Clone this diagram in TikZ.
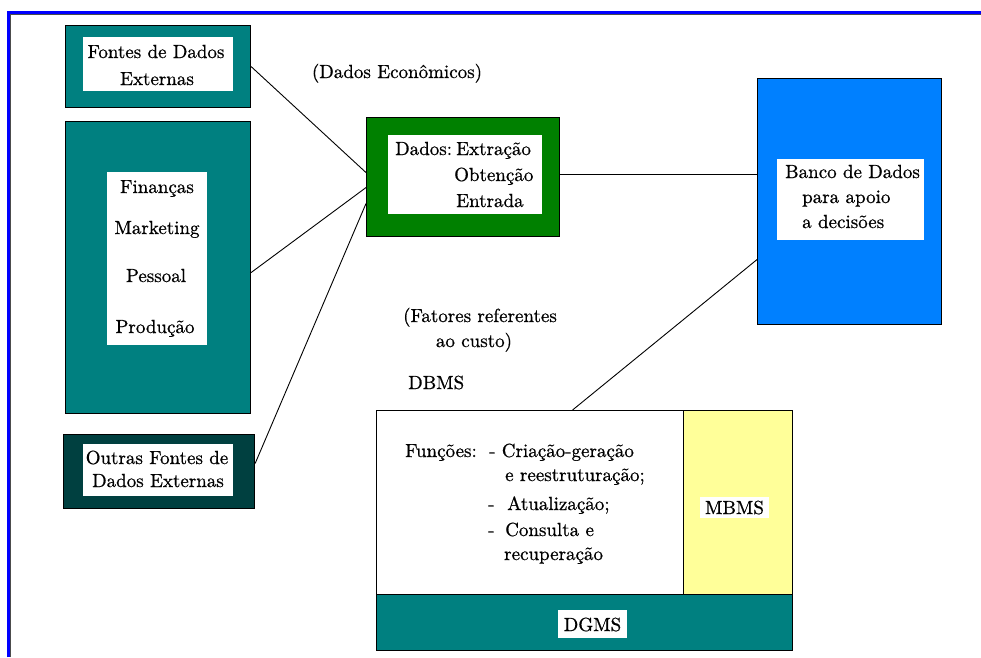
\documentclass[tikz,border=0pt]{standalone}
\usepackage{fontspec}
\newfontfamily\boxfont{lmroman10-regular.otf}[FakeBold=0.7]
\begin{document}
\begin{tikzpicture}[x=1pt,y=-1pt,
  box/.style={draw=black, line width=1.1pt, anchor=north west, inner sep=0pt},
  label/.style={fill=white, anchor=north west, inner sep=0pt},
  txt/.style={inner sep=0pt, anchor=base, font=\boxfont\fontsize{19}{23}\selectfont},
  txtl/.style={txt, anchor=base west},
  link/.style={draw=black, line width=0.9pt}]
\definecolor{tealbox}{RGB}{0,128,128}
\definecolor{darkteal}{RGB}{0,64,64}
\definecolor{greenbox}{RGB}{0,128,0}
\definecolor{bluebox}{RGB}{0,128,255}
\definecolor{yellowbox}{RGB}{255,255,153}
\definecolor{framebl}{RGB}{0,0,255}
\useasboundingbox (0,0) rectangle (981,657);

% page frame: blue rule with a dark inner edge
\draw[framebl, line width=3pt] (8.5,657) -- (8.5,12.5) -- (981,12.5);
\draw[black!70, line width=0.8pt] (10.4,657) -- (10.4,14.4) -- (981,14.4);

% source boxes
\node[box, fill=tealbox, minimum width=185pt, minimum height=82pt] (fontes) at (65,25) {};
\node[label, minimum width=150pt, minimum height=54pt] (fontesL) at (83,37) {};
\node[txt] (fontesT1) at (156,58) {Fontes de Dados};
\node[txt] (fontesT2) at (157,85) {Externas};

\node[box, fill=tealbox, minimum width=185pt, minimum height=292pt] (fin) at (65,121) {};
\node[label, minimum width=100pt, minimum height=173pt] (finL) at (107,172) {};
\node[txt] (finT1) at (157,193) {Finanças};
\node[txt] (finT2) at (157,234) {Marketing};
\node[txt] (finT3) at (156,282) {Pessoal};
\node[txt] (finT4) at (155,333) {Produção};

\node[box, fill=darkteal, minimum width=191pt, minimum height=74pt] (outras) at (63,434) {};
\node[label, minimum width=150pt, minimum height=52pt] (outrasL) at (83,444) {};
\node[txt] (outrasT1) at (157,464) {Outras Fontes de};
\node[txt] (outrasT2) at (158,487) {Dados Externas};

% data extraction box
\node[box, fill=greenbox, minimum width=193pt, minimum height=119pt] (dados) at (366,117) {};
\node[label, minimum width=154pt, minimum height=79pt] (dadosL) at (388,135) {};
\node[txtl] (dadosT0) at (395,155) {Dados:};
\node[txtl] (dadosT1) at (456,155) {Extração};
\node[txtl] (dadosT2) at (454,181) {Obtenção};
\node[txtl] (dadosT3) at (456,207) {Entrada};

% decision-support database
\node[box, fill=bluebox, minimum width=184pt, minimum height=246pt] (banco) at (757,78) {};
\node[label, minimum width=147pt, minimum height=81pt] (bancoL) at (777,159) {};
\node[txtl] (bancoT1) at (785,178) {Banco de Dados};
\node[txtl] (bancoT2) at (802,203) {para apoio};
\node[txtl] (bancoT3) at (802,228) {a decisões};

% free labels
\node[txt] (econ) at (397,78) {(Dados Econômicos)};
\node[txt] (fat1) at (480,322) {(Fatores referentes};
\node[txt] (fat2) at (474,347) {ao custo)};
\node[txtl] (dbmsT) at (408,389) {DBMS};

% DBMS / MBMS / DGMS block
\node[box, fill=white, minimum width=307pt, minimum height=184pt] (dbms) at (376,410) {};
\node[box, fill=yellowbox, minimum width=109pt, minimum height=184pt] (mbms) at (683,410) {};
\node[box, fill=tealbox, minimum width=416pt, minimum height=56pt] (dgms) at (376,594) {};
\node[label, minimum width=69pt, minimum height=21pt] (mbmsL) at (700,497) {};
\node[txt] (mbmsT) at (734.5,514) {MBMS};
\node[label, minimum width=69pt, minimum height=28pt] (dgmsL) at (558,610) {};
\node[txt] (dgmsT) at (592.5,631) {DGMS};

\node[txtl] (funT1) at (405,457) {Funções:};
\node[txtl] (funT2) at (489,457) {- Criação-geração};
\node[txtl] (funT3) at (505,481) {e reestruturação;};
\node[txtl] (funT4) at (488,510) {-};
\node[txtl] (funT5) at (507,510) {Atualização;};
\node[txtl] (funT6) at (488,536) {-};
\node[txtl] (funT7) at (505,536) {Consulta e};
\node[txtl] (funT8) at (504,560) {recuperação};

% connectors
\draw[link] (fontes.east) -- ([yshift=4.5pt]dados.west);
\draw[link] ([yshift=-5pt]fin.east) -- ([yshift=-10.5pt]dados.west);
\draw[link] ([yshift=8pt]outras.east) -- ([yshift=-26.5pt]dados.west);
\draw[link] ([yshift=2.5pt]dados.east) -- ([yshift=2.5pt]dados.east -| banco.west);
\draw[link] ([yshift=-58pt]banco.west) -- ([xshift=42.5pt]dbms.north);
\end{tikzpicture}
\end{document}
